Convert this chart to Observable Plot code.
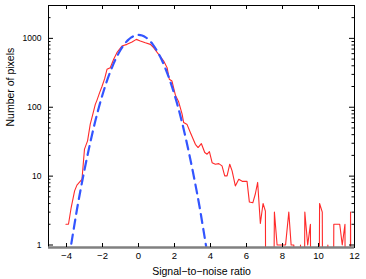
<!DOCTYPE html>
<html><head><meta charset="utf-8">
<script src="https://cdn.jsdelivr.net/npm/d3@7"></script>
<script src="https://cdn.jsdelivr.net/npm/@observablehq/plot@0.6"></script>
<style>body{margin:0;background:#fff}</style>
</head><body><div id="chart"></div>
<script>
// Observed histogram (red): signal-to-noise ratio vs number of pixels (0 = empty bin)
const redSnr = [-4.03,-3.89,-3.74,-3.55,-3.42,-3.24,-3.14,-3.0,-2.83,-2.68,-2.59,-2.40,-2.31,-2.16,-2.03,-1.88,-1.75,-1.57,-1.38,-1.2,-0.92,-0.64,-0.36,-0.12,0.1,0.38,0.66,0.84,1.12,1.4,1.59,1.71,1.86,2.05,2.23,2.42,2.51,2.70,2.88,3.16,3.31,3.49,3.68,3.81,3.94,4.09,4.27,4.46,4.64,4.79,4.92,5.07,5.2,5.38,5.57,5.76,6.03,6.16,6.35,6.49,6.62,6.77,6.92,7.05,7.1,7.45,7.55,7.7,8.17,8.35,8.48,8.63,8.7,8.95,9.0,9.05,9.18,9.24,9.4,9.55,9.62,10.0,10.06,10.21,10.26,10.47,10.52,10.57,10.8,10.85,11.18,11.32,11.47,11.52,11.75,11.78,11.82];
const redCount = [2,2,3.5,6.1,7.4,8.4,9.0,24.7,32.5,57,70,110,126,163,200,260,356,375,498,620,775,818,884,967,915,863,818,731,586,468,375,255,240,150,120,80,60,56,43,29,26,29.7,22,20.8,22.7,15.7,14.9,15.2,14.1,10.1,10.1,14.9,11.9,7.2,9.0,8.4,8.4,4.2,4.1,5.5,8.1,2.06,4.0,3.1,0,0,3,1,1,3,1,1,0,0,1,0,0,3,1,2,0,0,4,3,0,0,1,0,0,2,2,1,2,0,0,3,0];

// Model (blue dashed)
const blueSnr = [-3.8,-3.6,-3.4,-3.2,-3.0,-2.8,-2.6,-2.4,-2.2,-2.0,-1.8,-1.6,-1.4,-1.2,-1.0,-0.8,-0.6,-0.4,-0.2,0,0.2,0.4,0.6,0.8,1.0,1.2,1.4,1.6,1.8,2.0,2.2,2.4,2.6,2.8,3.0,3.2,3.4,3.6,3.8];
const blueCount = [0.82,1.7,3.5,6.7,12.4,22,38,63,100,152,222,311,420,545,679,813,935,1034,1098,1120,1098,1034,935,813,679,545,420,311,222,152,100,63,38,22,12.4,6.7,3.5,1.7,0.82];

const xTicks = [-4,-2,0,2,4,6,8,10,12];
const yTicks = [1,10,100,1000];
const yMinorTicks = [2,3,4,5,6,7,8,9,20,30,40,50,60,70,80,90,200,300,400,500,600,700,800,900,2000,3000];
const xDomain = [-5,12];
const yDomain = [0.92,3000];
const xTitle = "Signal\u2212to\u2212noise ratio";
const yTitle = "Number of pixels";
const ZERO_FLOOR = 1e-3;

const red = redSnr.map((x,i)=>({x, y: Math.max(redCount[i], ZERO_FLOOR)}));
const blue = blueSnr.map((x,i)=>({x, y: blueCount[i]}));

const W=366, H=279, mL=48, mR=12, mT=5, mB=32;
const innerH = H-mT-mB, innerW = W-mL-mR;

const chart = Plot.plot({
  width: W, height: H,
  marginLeft: mL, marginRight: mR, marginTop: mT, marginBottom: mB,
  style: {fontFamily: "'Liberation Sans', Arial, sans-serif", background: "#fff", color: "#000"},
  x: {domain: xDomain, label: null},
  y: {type: "log", domain: yDomain, label: null},
  marks: [
    Plot.line(red, {x: "x", y: "y", stroke: "#ff2a2a", strokeWidth: 1.1, clip: true}),
    Plot.line(blue, {x: "x", y: "y", stroke: "#3355ff", strokeWidth: 2.2, strokeDasharray: "9,6", strokeDashoffset: 7.5, curve: "natural", clip: true}),
    Plot.frame({stroke: "#000", strokeWidth: 1}),
    Plot.ruleY([yDomain[0]], {stroke: "#808080", strokeWidth: 2.5}),
    Plot.tickX(xTicks, {x: d=>d, insetTop: innerH-4, stroke: "#000"}),
    Plot.tickX(xTicks, {x: d=>d, insetBottom: innerH-4, stroke: "#000"}),
    Plot.tickY(yTicks, {y: d=>d, insetRight: innerW-5, stroke: "#000"}),
    Plot.tickY(yTicks, {y: d=>d, insetLeft: innerW-5, stroke: "#000"}),
    Plot.tickY(yMinorTicks, {y: d=>d, insetRight: innerW-2.5, stroke: "#000"}),
    Plot.tickY(yMinorTicks, {y: d=>d, insetLeft: innerW-2.5, stroke: "#000"}),
    Plot.axisX(xTicks, {tickSize: 0, tickPadding: 5, fontSize: 9.5}),
    Plot.axisY(yTicks, {tickSize: 0, tickPadding: 7, fontSize: 8.5, tickFormat: d=>String(d)}),
    Plot.text([xTitle], {frameAnchor: "bottom", dy: 24, fontSize: 10.5, lineAnchor: "middle"}),
    Plot.text([yTitle], {frameAnchor: "left", dx: -38, rotate: -90, fontSize: 10.5, lineAnchor: "middle"})
  ]
});
document.getElementById("chart").appendChild(chart);
</script>
</body></html>
